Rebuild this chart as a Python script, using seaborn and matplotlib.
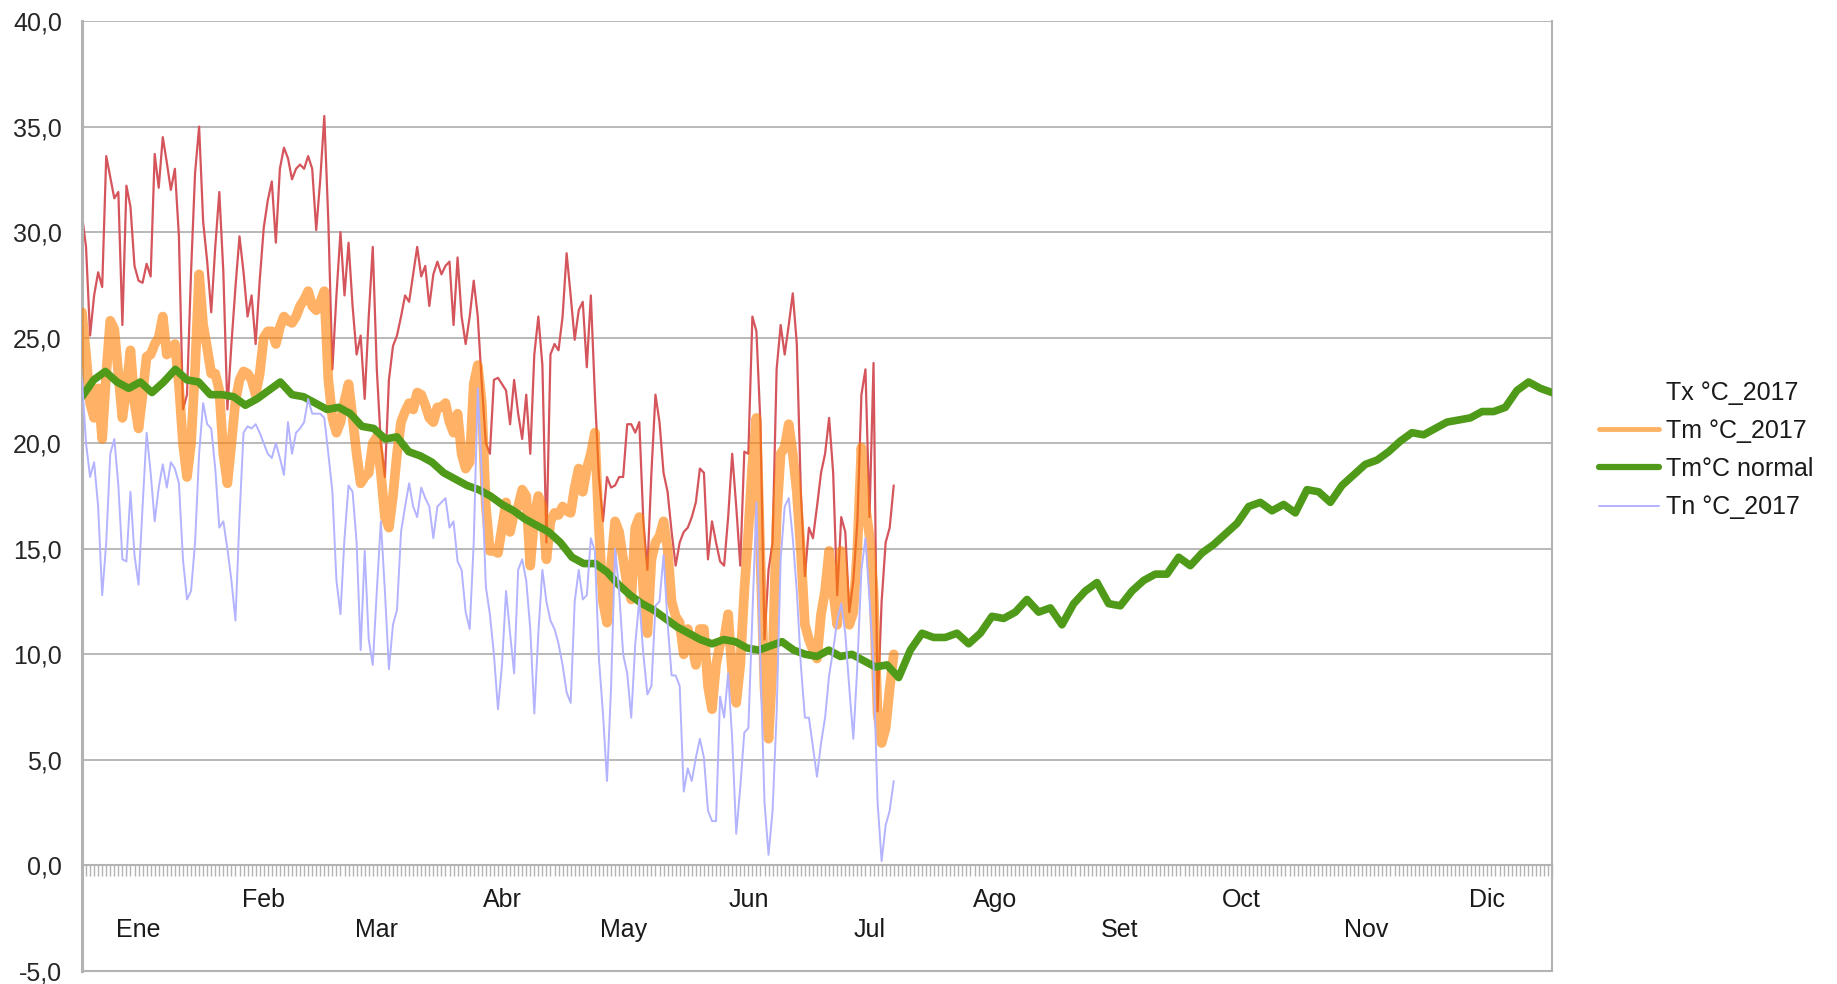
import matplotlib
matplotlib.use("Agg")
import matplotlib.pyplot as plt
import matplotlib.dates as mdates
from matplotlib.lines import Line2D
from matplotlib.ticker import FuncFormatter, MultipleLocator, NullFormatter
import pandas as pd
import seaborn as sns

# daily values 2017, from 1 Jan
TX_2017 = [
    30.8, 29.3, 25.1, 27.0, 28.1, 27.4, 33.6, 32.6, 31.6, 31.9,
    25.6, 32.2, 31.2, 28.4, 27.7, 27.6, 28.5, 27.9, 33.7, 32.1,
    34.5, 33.3, 32.0, 33.0, 29.8, 21.6, 22.3, 28.1, 32.8, 35.0,
    30.5, 28.6, 26.2, 29.3, 31.9, 28.1, 21.6, 24.7, 27.4, 29.8,
    28.1, 26.0, 27.0, 24.7, 27.7, 30.2, 31.5, 32.4, 29.5, 33.0,
    34.0, 33.5, 32.5, 33.0, 33.2, 33.0, 33.6, 33.0, 30.1, 32.5,
    35.5, 30.5, 23.5, 27.0, 30.0, 27.0, 29.5, 26.5, 24.2, 25.1,
    22.1, 26.0, 29.3, 23.5, 20.0, 18.4, 23.0, 24.6, 25.1, 26.0,
    27.0, 26.7, 28.0, 29.3, 27.9, 28.4, 26.5, 28.0, 28.6, 28.0,
    28.4, 28.6, 25.6, 28.8, 26.0, 24.7, 26.0, 27.7, 26.0, 22.8,
    20.0, 19.5, 23.0, 23.1, 22.8, 22.5, 20.9, 23.0, 21.4, 20.2,
    22.3, 19.5, 24.2, 26.0, 23.7, 15.3, 24.2, 24.7, 24.4, 26.0,
    29.0, 27.0, 24.9, 26.3, 26.7, 23.6, 27.0, 22.3, 18.4, 16.3,
    18.4, 17.9, 18.0, 18.4, 18.4, 20.9, 20.9, 20.5, 21.0, 16.3,
    14.0, 18.6, 22.3, 21.0, 18.6, 17.7, 15.8, 14.2, 15.3, 15.8,
    16.0, 16.5, 17.2, 18.8, 18.6, 14.5, 16.3, 15.3, 14.4, 14.2,
    16.5, 19.5, 17.0, 14.2, 19.6, 19.5, 26.0, 25.3, 20.9, 10.7,
    14.0, 15.3, 23.5, 25.6, 24.2, 25.6, 27.1, 24.7, 17.7, 13.7,
    16.0, 15.5, 17.0, 18.6, 19.5, 21.2, 18.6, 12.8, 16.5, 15.8,
    12.0, 13.5, 16.3, 22.3, 23.5, 16.5, 23.8, 7.3, 12.5, 15.3,
    16.0, 18.0,
]
TM_2017 = [
    26.2, 24.2, 21.9, 21.2, 22.6, 20.2, 23.3, 25.8, 25.4, 23.3,
    21.2, 22.6, 24.4, 21.9, 20.7, 22.3, 24.1, 24.2, 24.7, 25.0,
    26.0, 24.2, 24.4, 24.7, 22.8, 20.0, 18.4, 20.0, 23.5, 28.0,
    25.6, 24.5, 23.3, 23.3, 22.5, 19.5, 18.1, 20.0, 22.0, 23.0,
    23.4, 23.3, 23.0, 22.3, 23.3, 25.0, 25.3, 25.3, 24.7, 25.5,
    26.0, 25.8, 25.7, 26.0, 26.5, 26.8, 27.2, 26.5, 26.3, 26.7,
    27.2, 23.0, 21.2, 20.5, 21.0, 22.0, 22.8, 21.2, 19.5, 18.1,
    18.4, 18.6, 20.0, 20.3, 18.6, 16.5, 16.0, 17.5, 19.5, 21.0,
    21.5, 21.9, 21.6, 22.4, 22.3, 21.8, 21.2, 21.0, 21.7, 21.7,
    21.9, 21.0, 20.5, 21.4, 19.5, 18.8, 19.1, 22.8, 23.7, 21.9,
    17.0, 14.9, 14.9, 14.8, 16.0, 17.2, 15.8, 16.7, 17.0, 17.8,
    17.5, 14.2, 16.5, 17.5, 17.0, 14.5, 16.3, 16.7, 16.6, 17.0,
    16.8, 16.7, 17.9, 18.8, 17.7, 18.8, 19.5, 20.5, 16.0, 12.5,
    11.5, 14.2, 16.3, 15.8, 14.5, 13.3, 12.6, 16.0, 16.5, 13.0,
    11.0, 14.5, 15.3, 15.6, 16.3, 15.0, 12.5, 11.8, 11.5, 10.0,
    11.2, 10.5, 9.5, 11.2, 11.2, 8.5, 7.4, 9.5, 10.5, 10.7,
    11.9, 9.1, 7.7, 9.5, 13.0, 15.8, 19.0, 21.2, 14.5, 8.4,
    6.0, 9.5, 16.5, 19.5, 19.8, 20.9, 19.5, 17.7, 14.9, 11.4,
    10.7, 10.2, 9.8, 11.9, 13.0, 14.9, 13.0, 11.4, 14.9, 12.6,
    11.4, 12.0, 15.0, 19.8, 17.0, 15.6, 13.0, 7.2, 5.8, 6.5,
    8.4, 10.0,
]
TN_2017 = [
    23.0, 20.0, 18.4, 19.1, 17.0, 12.8, 15.3, 19.5, 20.2, 18.0,
    14.5, 14.4, 17.7, 14.7, 13.3, 17.0, 20.5, 18.6, 16.3, 17.9,
    19.0, 17.9, 19.1, 18.8, 18.1, 14.5, 12.6, 13.0, 15.3, 19.5,
    21.9, 20.9, 20.7, 18.8, 16.0, 16.3, 15.0, 13.5, 11.6, 16.5,
    20.5, 20.8, 20.7, 20.9, 20.5, 20.0, 19.5, 19.3, 20.0, 19.3,
    18.5, 21.0, 19.5, 20.5, 20.7, 21.0, 22.1, 21.4, 21.4, 21.4,
    21.2, 19.5, 17.7, 13.5, 11.9, 15.5, 18.0, 17.7, 15.3, 10.2,
    14.9, 10.7, 9.5, 13.0, 16.3, 13.0, 9.3, 11.4, 12.1, 15.8,
    17.0, 18.1, 17.0, 16.5, 17.9, 17.4, 17.0, 15.5, 17.0, 17.2,
    17.4, 16.0, 16.3, 14.4, 14.0, 12.0, 11.2, 15.3, 22.6, 18.5,
    13.2, 11.9, 10.0, 7.4, 9.5, 13.0, 11.0, 9.1, 14.0, 14.5,
    13.5, 11.2, 7.2, 11.0, 14.0, 12.5, 11.6, 11.2, 10.5, 9.5,
    8.2, 7.7, 12.5, 14.0, 12.6, 12.8, 15.5, 14.9, 9.8, 7.2,
    4.0, 8.4, 15.0, 13.0, 10.0, 9.1, 7.0, 10.5, 12.6, 10.0,
    8.1, 8.5, 12.3, 12.5, 14.7, 11.5, 9.0, 9.0, 8.5, 3.5,
    4.6, 4.0, 5.1, 6.0, 5.1, 2.6, 2.1, 2.1, 8.0, 7.0,
    9.1, 6.0, 1.5, 3.7, 6.3, 6.5, 11.9, 17.2, 9.5, 3.0,
    0.5, 2.6, 7.2, 14.5, 17.0, 17.4, 15.5, 13.0, 9.5, 7.0,
    7.0, 5.6, 4.2, 5.8, 7.0, 9.0, 10.2, 11.6, 12.4, 11.0,
    8.4, 6.0, 9.5, 14.0, 15.5, 12.6, 9.5, 3.0, 0.2, 1.9,
    2.6, 4.0,
]
# normal mean temperature, sampled about every 3 days over the whole year
TM_NORMAL = [
    22.2, 23.0, 23.4, 22.9, 22.6, 22.9, 22.4, 22.9, 23.5, 23.0,
    22.9, 22.3, 22.3, 22.2, 21.8, 22.1, 22.5, 22.9, 22.3, 22.2,
    21.9, 21.6, 21.7, 21.4, 20.8, 20.7, 20.2, 20.3, 19.6, 19.4,
    19.1, 18.6, 18.3, 18.0, 17.8, 17.5, 17.1, 16.8, 16.4, 16.1,
    15.8, 15.3, 14.6, 14.3, 14.3, 13.9, 13.3, 12.8, 12.4, 12.1,
    11.7, 11.3, 11.0, 10.7, 10.5, 10.7, 10.6, 10.3, 10.2, 10.4,
    10.6, 10.2, 10.0, 9.9, 10.2, 9.9, 10.0, 9.7, 9.4, 9.5,
    8.9, 10.2, 11.0, 10.8, 10.8, 11.0, 10.5, 11.0, 11.8, 11.7,
    12.0, 12.6, 12.0, 12.2, 11.4, 12.4, 13.0, 13.4, 12.4, 12.3,
    13.0, 13.5, 13.8, 13.8, 14.6, 14.2, 14.8, 15.2, 15.7, 16.2,
    17.0, 17.2, 16.8, 17.1, 16.7, 17.8, 17.7, 17.2, 18.0, 18.5,
    19.0, 19.2, 19.6, 20.1, 20.5, 20.4, 20.7, 21.0, 21.1, 21.2,
    21.5, 21.5, 21.7, 22.5, 22.9, 22.6, 22.4,
]
MONTHS = ["Ene", "Feb", "Mar", "Abr", "May", "Jun",
          "Jul", "Ago", "Set", "Oct", "Nov", "Dic"]
LABELS = ["Tx °C_2017", "Tm °C_2017", "Tm°C normal", "Tn °C_2017"]

RED = "#d5555c"
ORANGE = "#ff8000"
GREEN = "#4f9a18"
BLUE = "#b3b3ff"
GRID = "#b3b3b3"

sns.set_style("white")
plt.rcParams["font.family"] = ["Liberation Sans", "DejaVu Sans"]

start = pd.Timestamp("2017-01-01")
end = pd.Timestamp("2017-12-31")
daily = pd.DataFrame({
    "fecha": pd.date_range(start, periods=len(TX_2017), freq="D"),
    "tx": TX_2017,
    "tm": TM_2017,
    "tn": TN_2017,
})
normal = pd.DataFrame({
    "fecha": pd.date_range(start, end, periods=len(TM_NORMAL)),
    "tm_normal": TM_NORMAL,
})

fig = plt.figure(figsize=(18.37, 9.84), dpi=100)
ax = fig.add_axes([82 / 1837, 13 / 984, 1470 / 1837, 950 / 984])

sns.lineplot(data=daily, x="fecha", y="tx", ax=ax, color=RED, linewidth=1.6, zorder=2)
sns.lineplot(data=daily, x="fecha", y="tm", ax=ax, color=ORANGE, alpha=0.6, linewidth=7, zorder=3)
sns.lineplot(data=normal, x="fecha", y="tm_normal", ax=ax, color=GREEN, linewidth=5.5, zorder=4)
sns.lineplot(data=daily, x="fecha", y="tn", ax=ax, color=BLUE, linewidth=1.4, zorder=5)

ax.set_xlim(start, end)
ax.set_ylim(-5, 40)
ax.set_xlabel("")
ax.set_ylabel("")
ax.set_xticks([])
ax.yaxis.set_major_locator(MultipleLocator(5))
ax.yaxis.set_major_formatter(FuncFormatter(lambda v, _: f"{v:.1f}".replace(".", ",")))
ax.tick_params(axis="y", length=9.5, width=1.5, color=GRID, labelsize=18, pad=5)
ax.grid(axis="y", color=GRID, linewidth=1.3)
ax.set_axisbelow(True)
for side in ["left", "bottom", "right"]:
    ax.spines[side].set_color(GRID)
    ax.spines[side].set_linewidth(1.5)
ax.spines["left"].set_linewidth(2.2)
ax.spines["top"].set_visible(False)

# x axis sits on the zero line, one tick per day
zero_axis = ax.secondary_xaxis(5 / 45)
zero_axis.xaxis.set_major_locator(mdates.DayLocator())
zero_axis.xaxis.set_major_formatter(NullFormatter())
zero_axis.tick_params(length=8, width=1, color=GRID)
zero_axis.spines["bottom"].set_color(GRID)
zero_axis.spines["bottom"].set_linewidth(1.5)

# month names, staggered on two rows
for i, month in enumerate(MONTHS):
    label_day = pd.Timestamp(2017, i + 1, 1) + pd.Timedelta(days=14)
    y = -1.62 if i % 2 else -3.05
    ax.text(label_day, y, month, ha="center", va="center", fontsize=18, color="#1a1a1a")

handles = [
    Line2D([], [], color="none"),
    Line2D([], [], color=ORANGE, alpha=0.6, linewidth=3.5),
    Line2D([], [], color=GREEN, linewidth=4.5),
    Line2D([], [], color=BLUE, linewidth=1.4),
]
fig.legend(handles, LABELS, loc="center left", bbox_to_anchor=(1576 / 1837, 1 - 450 / 984),
           frameon=False, fontsize=18, handlelength=2.4, handletextpad=0.3,
           labelspacing=0.57, labelcolor="#1a1a1a")

fig.savefig("out.png", dpi=100)
